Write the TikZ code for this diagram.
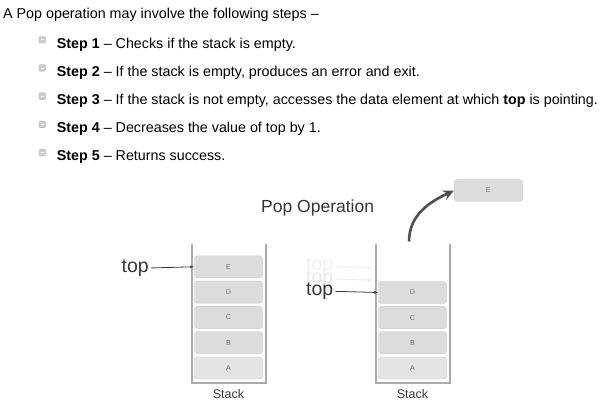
\documentclass[tikz,border=0pt]{standalone}
\usepackage{fontspec}
\setmainfont{Liberation Sans}
\usepackage{tikz}
\usetikzlibrary{
    arrows.meta,
    positioning,
    calc
}
\tikzset{
  para/.style    = {anchor=base west, inner sep=0pt, text=black,
                    font=\fontsize{14.3}{16}\selectfont},
  bullet/.style  = {draw=bulGray, fill=bulFill, rounded corners=1pt,
                    minimum size=6.5pt, inner sep=0pt},
  cell/.style    = {draw=cellEdge, fill=cellFill, rounded corners=3pt,
                    minimum width=68pt, minimum height=22pt, inner sep=0pt,
                    text=cellText, font=\fontsize{7}{8}\selectfont},
  lowcell/.style = {cell, fill=cellLow},
  ptrlab/.style  = {inner sep=0pt, text=ptrText,
                    font=\fontsize{19.5}{22}\selectfont},
  caption/.style = {inner sep=0pt, text=ptrText,
                    font=\fontsize{12.5}{14}\selectfont},
  wall/.style    = {draw=wallGray, line width=1.3pt},
  ptr/.style     = {-{Latex[length=4pt,width=3pt]}, ptrText, line width=0.8pt,
                    shorten <=2pt},
  ptrfade/.style = {-{Latex[length=4pt,width=3pt]}, line width=0.8pt,
                    shorten <=2pt},
  poparr/.style  = {-{Stealth[length=11pt,width=10pt]}, arrGray,
                    line width=2.6pt}
}
\definecolor{bulGray}{RGB}{175,175,175}
\definecolor{bulFill}{RGB}{205,205,205}
\definecolor{cellEdge}{RGB}{198,198,198}
\definecolor{cellFill}{RGB}{220,220,220}
\definecolor{cellLow}{RGB}{228,228,228}
\definecolor{cellText}{RGB}{110,110,110}
\definecolor{ptrText}{RGB}{55,55,55}
\definecolor{wallGray}{RGB}{170,170,170}
\definecolor{arrGray}{RGB}{80,80,80}
\definecolor{fadeA}{RGB}{240,240,240}
\definecolor{fadeB}{RGB}{232,232,232}

\begin{document}
\begin{tikzpicture}[x=1pt, y=-1pt]
  \useasboundingbox[fill=white] (0,0) rectangle (612,419);

  % text with the steps
  \node[para] (intro) at (3,18.3) {A Pop operation may involve the following steps –};
  \node[para] (s1) at (56.7,48.3) {\textbf{Step 1} – Checks if the stack is empty.};
  \node[para] (s2) at (56.7,76.5) {\textbf{Step 2} – If the stack is empty, produces an error and exit.};
  \node[para] (s3) at (56.7,104.6) {\textbf{Step 3} – If the stack is not empty, accesses the data element at which \textbf{top} is pointing.};
  \node[para] (s4) at (56.7,132.8) {\textbf{Step 4} – Decreases the value of top by 1.};
  \node[para] (s5) at (56.7,161) {\textbf{Step 5} – Returns success.};
  \foreach \i in {1,...,5}
    \node[bullet, left=11pt of s\i.west, yshift=4.8pt] (b\i) {};
  \foreach \i in {1,...,5}
    \draw[white!85!bulFill, line width=0.9pt] ([xshift=-1.6pt]b\i.center) -- ([xshift=1.6pt]b\i.center);

  % left stack
  \draw[wall] (192,244) |- (266,383) -- (266,244);
  \node[cell] (lE) at (228.5,266.8) {E};
  \node[cell] (lD) at (228.5,292.1) {D};
  \node[cell] (lC) at (228.5,317.4) {C};
  \node[cell] (lB) at (228.5,342.7) {B};
  \node[lowcell] (lA) at (228.5,368) {A};
  \node[caption] (lcap) at (228.5,394) {Stack};
  \node[ptrlab, anchor=east] (ltop) at (149,268) {top};
  \draw[ptr] (ltop.east) -- (lE.west);

  % right stack, after the pop
  \node[inner sep=0pt, text=ptrText, font=\fontsize{17.5}{20}\selectfont,
        anchor=base west] (title) at (261,212.5) {Pop Operation};
  \draw[wall] (376,244) |- (450,383) -- (450,244);
  \node[cell] (rD) at (412.5,292.5) {D};
  \node[cell] (rC) at (412.5,317.6) {C};
  \node[cell] (rB) at (412.5,342.8) {B};
  \node[lowcell] (rA) at (412.5,368) {A};
  \node[caption] (rcap) at (412.5,394) {Stack};
  \node[ptrlab, anchor=east, text=fadeA] (top2) at (333.5,266.5) {top};
  \node[ptrlab, anchor=east, text=fadeB] (top1) at (333.5,279) {top};
  \node[ptrlab, anchor=east] (rtop) at (333.5,291.3) {top};
  \coordinate (f2) at (372,268);
  \coordinate (f1) at (372,280.2);
  \draw[ptrfade, fadeA] (top2.east) -- (f2);
  \draw[ptrfade, fadeB] (top1.east) -- (f1);
  \draw[ptr] (rtop.east) -- (rD.west);

  % popped element
  \node[cell] (pE) at (488.3,190.5) {E};
  \coordinate (lift) at (409,241.5);
  \draw[poparr] (lift) to[out=90, in=205] (pE.west);
\end{tikzpicture}
\end{document}
